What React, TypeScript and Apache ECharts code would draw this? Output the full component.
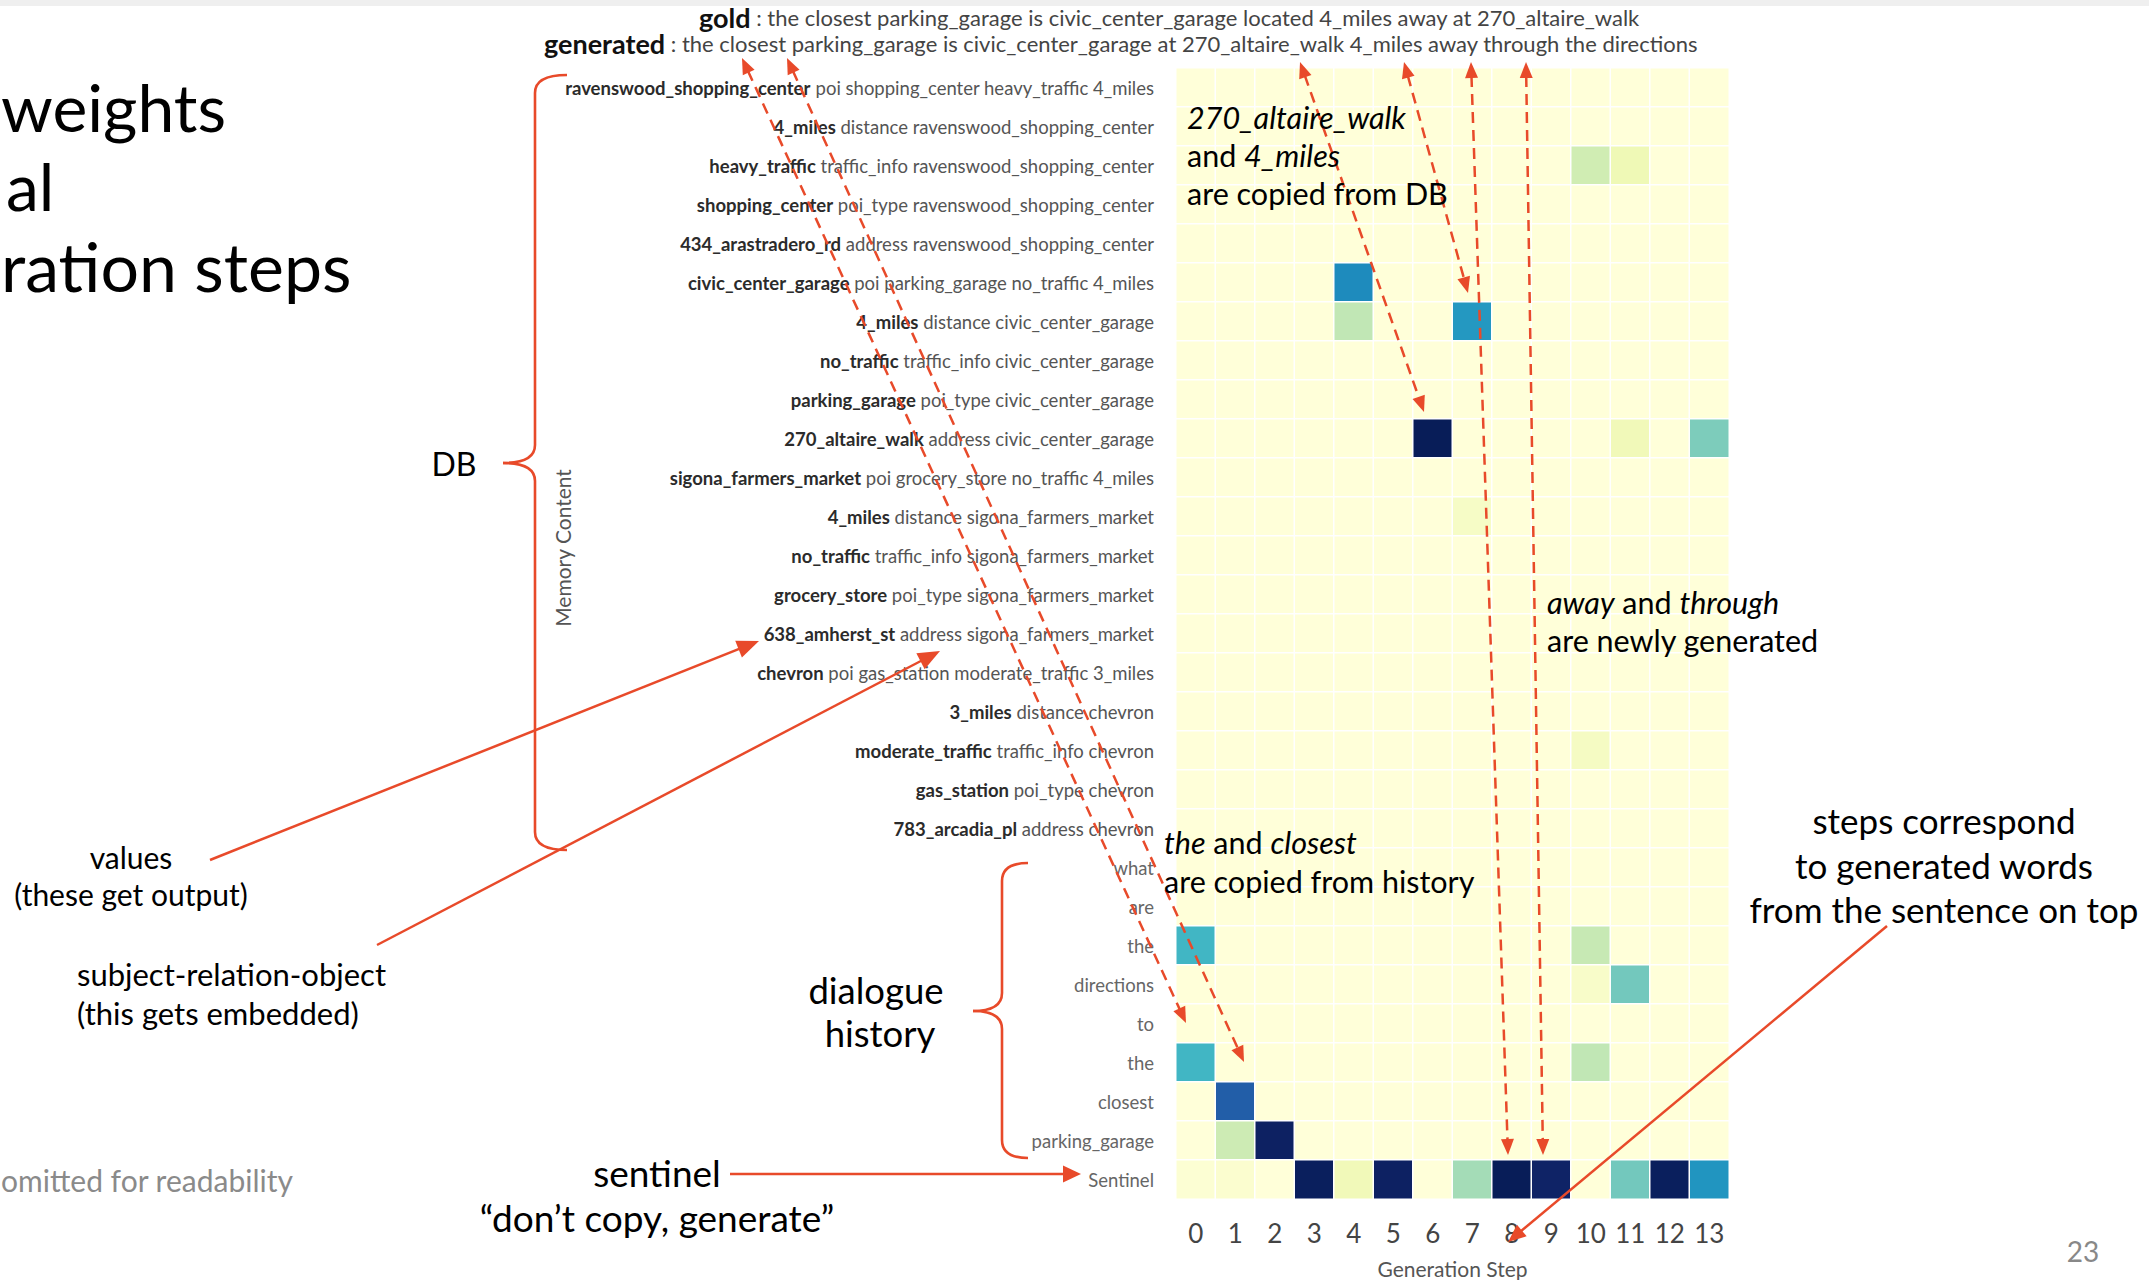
import React, { useEffect, useRef } from "react";
import * as echarts from "echarts";

// ---------------- data ----------------
const steps = ["0", "1", "2", "3", "4", "5", "6", "7", "8", "9", "10", "11", "12", "13"];

const memorySubjects = [
  "ravenswood_shopping_center", "4_miles", "heavy_traffic", "shopping_center", "434_arastradero_rd",
  "civic_center_garage", "4_miles", "no_traffic", "parking_garage", "270_altaire_walk",
  "sigona_farmers_market", "4_miles", "no_traffic", "grocery_store", "638_amherst_st",
  "chevron", "3_miles", "moderate_traffic", "gas_station", "783_arcadia_pl",
];
const memoryRest = [
  "poi shopping_center heavy_traffic 4_miles", "distance ravenswood_shopping_center",
  "traffic_info ravenswood_shopping_center", "poi_type ravenswood_shopping_center",
  "address ravenswood_shopping_center", "poi parking_garage no_traffic 4_miles",
  "distance civic_center_garage", "traffic_info civic_center_garage", "poi_type civic_center_garage",
  "address civic_center_garage", "poi grocery_store no_traffic 4_miles", "distance sigona_farmers_market",
  "traffic_info sigona_farmers_market", "poi_type sigona_farmers_market", "address sigona_farmers_market",
  "poi gas_station moderate_traffic 3_miles", "distance chevron", "traffic_info chevron",
  "poi_type chevron", "address chevron",
];
const historyTokens = ["what", "are", "the", "directions", "to", "the", "closest", "parking_garage", "Sentinel"];

// non-empty cells (all other cells are 0)
const cellRows = [2, 2, 5, 6, 6, 9, 9, 9, 11, 17, 22, 22, 23, 23, 25, 25, 26, 27, 27, 28, 28, 28, 28, 28, 28, 28, 28, 28, 28, 28];
const cellCols = [10, 11, 4, 4, 7, 6, 11, 13, 7, 10, 0, 10, 10, 11, 0, 10, 1, 1, 2, 0, 1, 3, 4, 5, 7, 8, 9, 11, 12, 13];
const cellValues = [0.22, 0.11, 0.64, 0.26, 0.6, 1.0, 0.1, 0.38, 0.06, 0.07, 0.5, 0.25, 0.05, 0.4, 0.5, 0.26, 0.75, 0.23, 0.98, 0.02, 0.03, 0.99, 0.1, 0.98, 0.31, 1.0, 0.97, 0.4, 0.99, 0.61];

const goldSentence = "the closest parking_garage is civic_center_garage located 4_miles away at 270_altaire_walk";
const generatedSentence = "the closest parking_garage is civic_center_garage at 270_altaire_walk 4_miles away through the directions";

const ylgnbu = ["#ffffd9", "#edf8b1", "#c7e9b4", "#7fcdbb", "#41b6c4", "#1d91c0", "#225ea8", "#253494", "#081d58"];

const RED = "#e84a2a";
const FONT = "Lato";

function arrowHead(tx: number, ty: number, fx: number, fy: number, len: number, wid: number) {
  const dx = tx - fx, dy = ty - fy;
  const d = Math.hypot(dx, dy);
  const ux = dx / d, uy = dy / d;
  const bx = tx - ux * len, by = ty - uy * len;
  const px = -uy, py = ux;
  return {
    type: "polygon", z: 110,
    shape: { points: [[tx, ty], [bx + (px * wid) / 2, by + (py * wid) / 2], [bx - (px * wid) / 2, by - (py * wid) / 2]] },
    style: { fill: RED },
  };
}

function dashedDouble(x1: number, y1: number, x2: number, y2: number) {
  const len = 16, wid = 13;
  const dx = x2 - x1, dy = y2 - y1;
  const d = Math.hypot(dx, dy);
  const ux = dx / d, uy = dy / d;
  return [
    {
      type: "line", z: 105,
      shape: { x1: x1 + ux * (len - 2), y1: y1 + uy * (len - 2), x2: x2 - ux * (len - 2), y2: y2 - uy * (len - 2) },
      style: { stroke: RED, lineWidth: 2.5, lineDash: [11, 7] },
    },
    arrowHead(x1, y1, x2, y2, len, wid),
    arrowHead(x2, y2, x1, y1, len, wid),
  ];
}

function solidArrow(x1: number, y1: number, x2: number, y2: number, len: number, wid: number) {
  const dx = x2 - x1, dy = y2 - y1;
  const d = Math.hypot(dx, dy);
  const ux = dx / d, uy = dy / d;
  return [
    { type: "line", z: 105, shape: { x1, y1, x2: x2 - ux * (len - 2), y2: y2 - uy * (len - 2) }, style: { stroke: RED, lineWidth: 2.5 } },
    arrowHead(x2, y2, x1, y1, len, wid),
  ];
}

function brace(endX: number, lineX: number, tipX: number, top: number, mid: number, bottom: number) {
  const st = { stroke: RED, lineWidth: 2.6, fill: "none" };
  const r = 18;
  return [
    { type: "bezierCurve", z: 105, shape: { x1: endX, y1: top, x2: lineX, y2: top + r, cpx1: lineX, cpy1: top }, style: st },
    { type: "line", z: 105, shape: { x1: lineX, y1: top + r, x2: lineX, y2: mid - r }, style: st },
    { type: "bezierCurve", z: 105, shape: { x1: lineX, y1: mid - r, x2: tipX, y2: mid, cpx1: lineX, cpy1: mid }, style: st },
    { type: "bezierCurve", z: 105, shape: { x1: tipX, y1: mid, x2: lineX, y2: mid + r, cpx1: lineX, cpy1: mid }, style: st },
    { type: "line", z: 105, shape: { x1: lineX, y1: mid + r, x2: lineX, y2: bottom - r }, style: st },
    { type: "bezierCurve", z: 105, shape: { x1: lineX, y1: bottom - r, x2: endX, y2: bottom, cpx1: lineX, cpy1: bottom }, style: st },
  ];
}

function richText(text: string, x: number, y: number, size: number, align: string, color = "#000") {
  const base = { fontFamily: FONT, fontSize: size, fill: color };
  return {
    type: "text", z: 120,
    style: {
      text, x, y, textAlign: align, textVerticalAlign: "middle",
      font: `${size}px ${FONT}`, fill: color,
      rich: {
        n: { ...base, fontStyle: "normal" },
        i: { ...base, fontStyle: "italic" },
      },
    },
  };
}

function plainText(text: string, x: number, y: number, size: number, align: string, color = "#000", extra: any = {}) {
  return {
    type: "text", z: 120,
    style: { text, x, y, textAlign: align, textVerticalAlign: "middle", font: `${size}px ${FONT}`, fill: color, ...extra },
  };
}

export default function App() {
  const ref = useRef<HTMLDivElement>(null);

  useEffect(() => {
    if (!ref.current) return;
    const chart = echarts.init(ref.current, null, { renderer: "svg", width: 2149, height: 1280 });

    const rowLabels: string[] = [];
    for (let i = 0; i < memorySubjects.length; i++) rowLabels.push(memorySubjects[i] + " " + memoryRest[i]);
    for (const h of historyTokens) rowLabels.push(h);
    const nMem = memorySubjects.length;

    const grid: number[][] = [];
    for (let r = 0; r < rowLabels.length; r++) {
      grid.push(steps.map(() => 0));
    }
    for (let k = 0; k < cellRows.length; k++) grid[cellRows[k]][cellCols[k]] = cellValues[k];
    const data: number[][] = [];
    for (let r = 0; r < rowLabels.length; r++)
      for (let c = 0; c < steps.length; c++) data.push([c, r, grid[r][c]]);

    const elements: any[] = [];
    elements.push({ type: "rect", z: 90, shape: { x: 0, y: 0, width: 2149, height: 6 }, style: { fill: "#efefef" } });

    // title fragments
    elements.push(plainText("weights", 1, 106, 66, "left"));
    elements.push(plainText("al", 6, 185, 66, "left"));
    elements.push(plainText("ration steps", 1, 265, 68, "left"));

    // gold / generated sentences
    const sentRich = {
      b: { fontFamily: FONT, fontSize: 27, fontWeight: "bold", fill: "#111", lineHeight: 23 },
      s: { fontFamily: FONT, fontSize: 22, fill: "#444", lineHeight: 23 },
    };
    elements.push({
      type: "text", z: 120,
      style: { text: `{b|gold}{s| : ${goldSentence}}`, x: 699, y: 17, textAlign: "left", textVerticalAlign: "middle", lineHeight: 23, rich: sentRich },
    });
    elements.push({
      type: "text", z: 120,
      style: { text: `{b|generated}{s| : ${generatedSentence}}`, x: 544, y: 43, textAlign: "left", textVerticalAlign: "middle", lineHeight: 23, rich: sentRich },
    });

    // annotations
    elements.push(richText("{i|270_altaire_walk}", 1187, 117, 30.5, "left"));
    elements.push(richText("{n|and }{i|4_miles}", 1187, 155, 30.5, "left"));
    elements.push(richText("{n|are copied from DB}", 1187, 193, 30.5, "left"));
    elements.push(richText("{i|away}{n| and }{i|through}", 1547, 602, 30.5, "left"));
    elements.push(richText("{n|are newly generated}", 1547, 640, 30.5, "left"));
    elements.push(richText("{i|the}{n| and }{i|closest}", 1164, 842, 30.5, "left"));
    elements.push(richText("{n|are copied from history}", 1164, 881, 30.5, "left"));
    elements.push(plainText("steps correspond", 1944, 820, 35, "center"));
    elements.push(plainText("to generated words", 1944, 865, 35, "center"));
    elements.push(plainText("from the sentence on top", 1944, 909, 35, "center"));
    elements.push(plainText("DB", 454, 463, 32, "center"));
    elements.push(plainText("values", 131, 857, 30, "center"));
    elements.push(plainText("(these get output)", 131, 894, 30, "center"));
    elements.push(plainText("subject-relation-object", 77, 974, 31, "left"));
    elements.push(plainText("(this gets embedded)", 77, 1013, 31, "left"));
    elements.push(plainText("dialogue", 876, 990, 36.5, "center"));
    elements.push(plainText("history", 880, 1033, 36.5, "center"));
    elements.push(plainText("sentinel", 657, 1172, 37, "center"));
    elements.push(plainText("\u201cdon\u2019t copy, generate\u201d", 657, 1217, 37, "center"));
    elements.push(plainText("omitted for readability", 1, 1180, 30, "left", "#8a8a8a"));
    elements.push(plainText("23", 2083, 1251, 28, "center", "#888"));
    elements.push({
      type: "text", z: 120, x: 562, y: 548, rotation: Math.PI / 2,
      style: { text: "Memory Content", x: 0, y: 0, textAlign: "center", textVerticalAlign: "middle", font: `21px ${FONT}`, fill: "#555" },
    });

    // braces
    elements.push(...brace(567, 535, 503, 75, 463, 850));
    elements.push(...brace(1028, 1002, 973, 863, 1011, 1158));

    // solid arrows
    elements.push(...solidArrow(210, 860, 759, 641, 22, 18));
    elements.push(...solidArrow(377, 945, 940, 651, 22, 18));
    elements.push(...solidArrow(730, 1174, 1081, 1174, 18, 17));
    elements.push(...solidArrow(1887, 926, 1508, 1242, 18, 15));

    // dashed double arrows
    elements.push(...dashedDouble(742, 58, 1186, 1023));
    elements.push(...dashedDouble(787, 58, 1244, 1062));
    elements.push(...dashedDouble(1300, 62, 1424, 412));
    elements.push(...dashedDouble(1404, 62, 1468, 293));
    elements.push(...dashedDouble(1471, 62, 1508, 1155));
    elements.push(...dashedDouble(1526, 62, 1543, 1155));

    const option: any = {
      animation: false,
      backgroundColor: "#ffffff",
      grid: { left: 1176, top: 68, width: 553, height: 1131, containLabel: false, outerBoundsMode: "none" },
      xAxis: {
        type: "category",
        data: steps,
        axisLine: { show: false },
        axisTick: { show: false },
        splitLine: { show: false },
        axisLabel: { interval: 0, fontSize: 26, color: "#444", fontFamily: FONT, margin: 21 },
        name: "Generation Step",
        nameLocation: "middle",
        nameGap: 59,
        nameTextStyle: { fontSize: 21, color: "#555", fontFamily: FONT },
      },
      yAxis: {
        type: "category",
        data: rowLabels,
        inverse: true,
        axisLine: { show: false },
        axisTick: { show: false },
        splitLine: { show: false },
        axisLabel: {
          interval: 0,
          margin: 22,
          formatter: (_v: string, idx: number) => {
            if (idx < nMem) return `{b|${memorySubjects[idx]}}{r| ${memoryRest[idx]}}`;
            return `{h|${historyTokens[idx - nMem]}}`;
          },
          rich: {
            b: { fontWeight: "bold", color: "#2b2b2b", fontSize: 18.5, fontFamily: FONT },
            r: { color: "#555", fontSize: 18.5, fontFamily: FONT },
            h: { color: "#666", fontSize: 18.5, fontFamily: FONT },
          },
        },
      },
      visualMap: { show: false, min: 0, max: 1, dimension: 2, inRange: { color: ylgnbu } },
      series: [
        {
          type: "heatmap",
          data,
          silent: true,
          itemStyle: { borderColor: "#ffffff", borderWidth: 1.5 },
          emphasis: { disabled: true },
        },
      ],
      graphic: { elements },
    };

    chart.setOption(option);
    return () => chart.dispose();
  }, []);

  return (
    <div
      ref={ref}
      style={{ position: "absolute", left: 0, top: 0, width: 2149, height: 1280, background: "#fff" }}
    />
  );
}
